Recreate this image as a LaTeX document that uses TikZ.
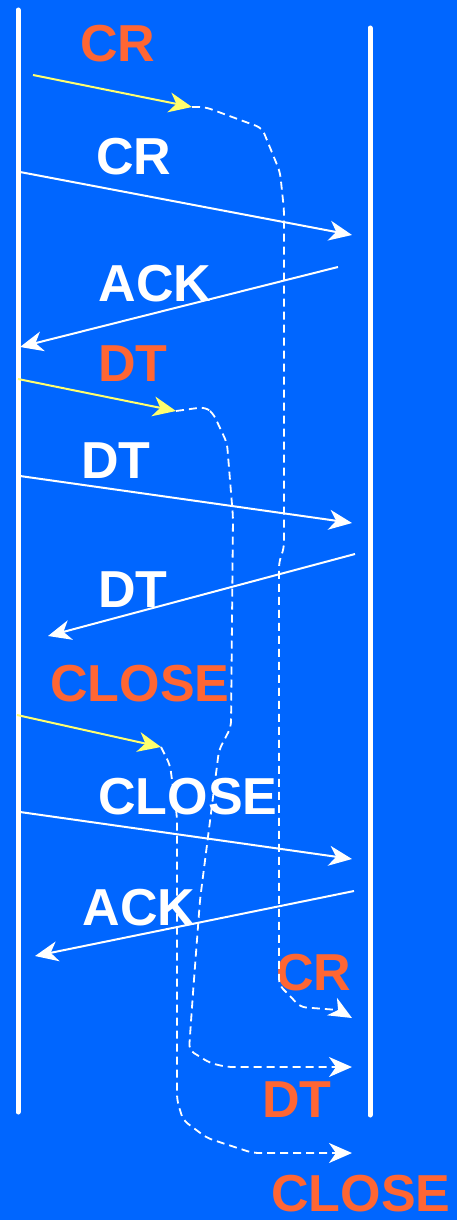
\documentclass[tikz,border=0pt]{standalone}
\usepackage{fontspec}
\setmainfont{Liberation Sans}
\usetikzlibrary{arrows.meta}

\definecolor{slideblue}{RGB}{0,102,255}
\definecolor{lblorange}{RGB}{255,102,51}
\definecolor{reqyellow}{RGB}{255,255,110}

\begin{document}
\begin{tikzpicture}[
  x=1pt, y=-1pt,
  lbl/.style={font=\fontsize{52}{52}\selectfont\bfseries, text=white, inner sep=0pt},
  lblreq/.style={lbl, text=lblorange},
  msg/.style={-{Stealth[length=23pt,width=20pt,inset=7pt]}, line width=2pt, draw=white},
  req/.style={msg, draw=reqyellow},
  relay/.style={msg, line width=1.8pt, dash pattern=on 8pt off 5pt, rounded corners=6pt},
  life/.style={line width=5pt, draw=white, line cap=round}
]
\fill[slideblue] (0,0) rectangle (457,1220);
\useasboundingbox (0,0) rectangle (457,1220);

% the two stations
\coordinate (Ltop) at (18,10);
\coordinate (Lbot) at (18,1112);
\coordinate (Rtop) at (370,28);
\coordinate (Rbot) at (370,1115);
\draw[life] (Ltop) -- (Lbot);
\draw[life] (Rtop) -- (Rbot);

% connection request
\coordinate (crU) at (33,75);
\coordinate (crQ) at (192,107);
\coordinate (crS) at (20,172);
\coordinate (crR) at (352,235);
\coordinate (akS) at (338,267);
\coordinate (akR) at (20,347);
\node[lblreq] (crreq) at (118,44) {CR};
\node[lbl] (crpdu) at (134,157) {CR};
\node[lbl] (ackpdu) at (155,284) {ACK};
\draw[req] (crU) -- (crQ);
\draw[msg] (crS) -- (crR);
\draw[msg] (akS) -- (akR);

% data transfer
\coordinate (dtU) at (18,379);
\coordinate (dtQ) at (176,411);
\coordinate (dtS) at (20,476);
\coordinate (dtR) at (352,523);
\coordinate (dt2S) at (355,554);
\coordinate (dt2R) at (48,636);
\node[lblreq] (dtreq) at (133,364) {DT};
\node[lbl] (dtpdu) at (116,461) {DT};
\node[lbl] (dtpdu2) at (133,590) {DT};
\draw[req] (dtU) -- (dtQ);
\draw[msg] (dtS) -- (dtR);
\draw[msg] (dt2S) -- (dt2R);

% release
\coordinate (clU) at (17,715);
\coordinate (clQ) at (161,747);
\coordinate (clS) at (20,812);
\coordinate (clR) at (352,859);
\coordinate (ak2S) at (354,891);
\coordinate (ak2R) at (35,956);
\node[lblreq] (clreq) at (140,684) {CLOSE};
\node[lbl] (clpdu) at (188,797) {CLOSE};
\node[lbl] (ackpdu2) at (139,908) {ACK};
\draw[req] (clU) -- (clQ);
\draw[msg] (clS) -- (clR);
\draw[msg] (ak2S) -- (ak2R);

% indications at the far side
\coordinate (crI) at (352,1018);
\coordinate (dtI) at (352,1067);
\coordinate (clI) at (352,1153);
\node[lblreq] (crind) at (314,973) {CR};
\node[lblreq] (dtind) at (297,1100) {DT};
\node[lblreq] (clind) at (361,1194) {CLOSE};

\draw[relay] (crQ) -- (205,107) -- (262,128) -- (280,172) -- (284,210) -- (284,548)
  -- (279,562) -- (279,985) -- (292,998) -- (300,1007) -- (338,1010) -- (crI);
\draw[relay] (dtQ) -- (205,407) -- (213,413) -- (227,443) -- (233,517) -- (231,727)
  -- (219,750) -- (200,900) -- (193,993) -- (189,1050) -- (210,1063) -- (227,1067) -- (dtI);
\draw[relay] (clQ) -- (170,765) -- (177,817) -- (177,1100) -- (183,1120) -- (207,1138)
  -- (253,1153) -- (clI);

\end{tikzpicture}
\end{document}
